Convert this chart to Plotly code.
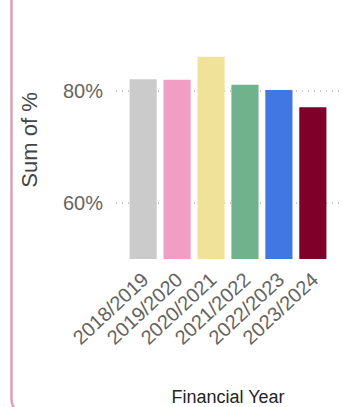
import plotly.graph_objects as go

years = ["2018/2019", "2019/2020", "2020/2021", "2021/2022", "2022/2023", "2023/2024"]
values = [82.1, 82.0, 86.1, 81.1, 80.2, 77.1]
colors = ["#CBCBCB", "#F19EC5", "#F0E299", "#6FB28B", "#4177E2", "#7F0028"]
y_ticks = [60, 80]
y_tick_labels = ["60%", "80%"]

W, H = 352, 407
ML, MR, MT, MB = 116, 12, 21, 148
PW, PH = W - ML - MR, H - MT - MB

fig = go.Figure(go.Bar(
    x=list(range(len(years))), y=values, base=0,
    marker=dict(color=colors, line=dict(width=0)),
    hoverinfo="skip",
))

def px2paper(px, py):
    return (px - ML) / PW, (H - MB - py) / PH

x0, _ = px2paper(11.5, 0)
_, ytop = px2paper(0, -20)
xr, ybot = px2paper(11.5 + 12, 411)
_, ycurve = px2paper(0, 399)
xfar, _ = px2paper(400, 0)
path = f"M {x0},{ytop} L {x0},{ycurve} Q {x0},{ybot} {xr},{ybot} L {xfar},{ybot}"

fig.update_layout(
    width=W, height=H,
    margin=dict(l=ML, r=MR, t=MT, b=MB, pad=0, autoexpand=False),
    paper_bgcolor="white", plot_bgcolor="white",
    bargap=0.2, showlegend=False,
    font=dict(family="Liberation Sans, Arial, sans-serif"),
    shapes=[dict(type="path", path=path, xref="paper", yref="paper",
                 line=dict(color="#D6A3B5", width=2.5), layer="above")],
    xaxis=dict(
        range=[-0.8, 5.8], tickmode="array", tickvals=list(range(len(years))),
        ticktext=years, tickangle=-43, showgrid=False, zeroline=False,
        showline=False, ticks="", ticklabelstandoff=4, automargin=False,
        tickfont=dict(size=20, color="#66645F"),
        title=dict(text="Financial Year", standoff=44,
                   font=dict(size=18, color="#252423")),
    ),
    yaxis=dict(
        range=[50, 92.5], tickmode="array", tickvals=y_ticks, ticktext=y_tick_labels,
        showgrid=True, gridcolor="#C8C8C8", gridwidth=1.5, griddash="1px,5px",
        zeroline=False, showline=False, ticks="", ticklabelstandoff=12, automargin=False,
        tickfont=dict(size=20, color="#66645F"),
        title=dict(text="Sum of %", standoff=19,
                   font=dict(size=22, color="#444444")),
    ),
)

fig.write_html("out.html")
